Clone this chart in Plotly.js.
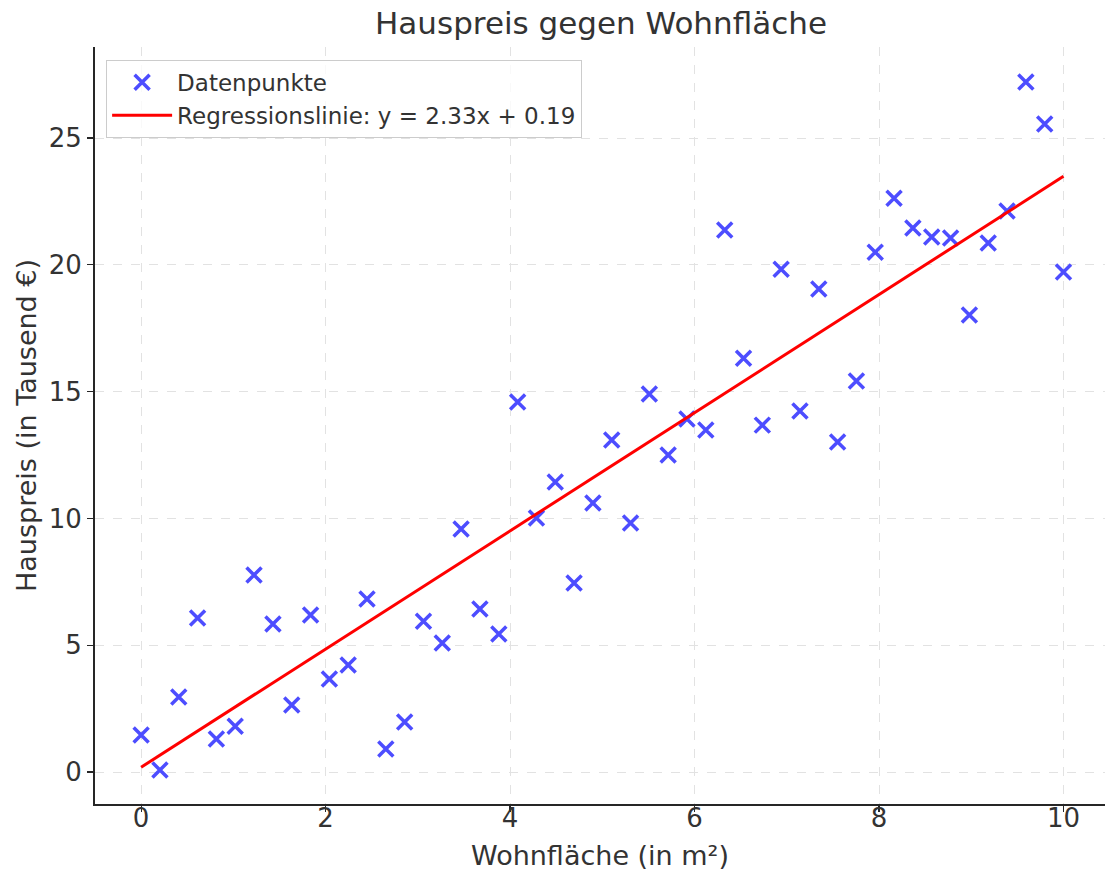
<!DOCTYPE html>
<html>
<head>
<meta charset="utf-8">
<script src="https://cdn.plot.ly/plotly-3.0.1.min.js"></script>
<style>html,body{margin:0;padding:0;background:#fff;}#chart{width:1105px;height:876px;}</style>
</head>
<body>
<div id="chart"></div>
<script>
// Wohnfläche (x) values
const wohnflaeche = [
  0.000, 0.204, 0.408, 0.612, 0.816, 1.020, 1.224, 1.429, 1.633, 1.837,
  2.041, 2.245, 2.449, 2.653, 2.857, 3.061, 3.265, 3.469, 3.673, 3.878,
  4.082, 4.286, 4.490, 4.694, 4.898, 5.102, 5.306, 5.510, 5.714, 5.918,
  6.122, 6.327, 6.531, 6.735, 6.939, 7.143, 7.347, 7.551, 7.755, 7.959,
  8.163, 8.367, 8.571, 8.776, 8.980, 9.184, 9.388, 9.592, 9.796, 10.000
];
// Hauspreis (y) values
const hauspreis = [
  1.46, 0.08, 2.96, 6.07, 1.30, 1.81, 7.77, 5.84, 2.64, 6.19,
  3.67, 4.22, 6.82, 0.91, 1.97, 5.95, 5.09, 9.58, 6.43, 5.44,
  14.59, 10.02, 11.44, 7.45, 10.61, 13.09, 9.82, 14.91, 12.50, 13.92,
  13.49, 21.37, 16.32, 13.68, 19.83, 14.24, 19.05, 13.01, 15.42, 20.50,
  22.63, 21.45, 21.10, 21.06, 18.02, 20.86, 22.12, 27.21, 25.55, 19.72
];
// Regression line endpoints
const regX = [0, 10];
const regY = [0.19, 23.49];
const regLabel = "Regressionslinie: y = 2.33x + 0.19";

const font = "DejaVu Sans, sans-serif";
const textColor = "#333333";

const traces = [
  {
    x: wohnflaeche, y: hauspreis, type: "scatter", mode: "markers",
    name: "Datenpunkte",
    marker: {symbol: "x-thin", size: 15, color: "#4d4dff", line: {color: "#4d4dff", width: 3.5}}
  },
  {
    x: regX, y: regY, type: "scatter", mode: "lines",
    name: regLabel,
    line: {color: "#ff0000", width: 3}
  }
];

const axisCommon = {
  showline: true, linecolor: "#262626", linewidth: 2,
  ticks: "outside", ticklen: 6, tickwidth: 1.2, tickcolor: "#262626",
  showgrid: true, gridcolor: "#e2e2e2", griddash: "dash", gridwidth: 1,
  zeroline: false, mirror: false,
  tickfont: {family: font, size: 26, color: textColor}
};

const layout = {
  width: 1105, height: 876,
  paper_bgcolor: "#ffffff", plot_bgcolor: "#ffffff",
  margin: {l: 95, r: 0, t: 47, b: 72},
  title: {text: "Hauspreis gegen Wohnfläche", x: 601/1105, xref: "container", xanchor: "center",
          y: 1 - 23/876, yref: "container", yanchor: "middle",
          font: {family: font, size: 31, color: textColor}},
  xaxis: Object.assign({}, axisCommon, {
    range: [-0.5, 10.45], tickvals: [0, 2, 4, 6, 8, 10],
    ticklabelstandoff: -16,
    title: {text: "Wohnfläche (in m²)", standoff: 14, font: {family: font, size: 27, color: textColor}}
  }),
  yaxis: Object.assign({}, axisCommon, {
    range: [-1.26, 28.59], tickvals: [0, 5, 10, 15, 20, 25],
    title: {text: "Hauspreis (in Tausend €)", standoff: 4, font: {family: font, size: 27, color: textColor}}
  }),
  showlegend: true,
  legend: {x: 0.011, y: 0.983, xanchor: "left", yanchor: "top",
           bgcolor: "rgba(255,255,255,0.8)", bordercolor: "#cccccc", borderwidth: 1,
           itemwidth: 60,
           font: {family: font, size: 23, color: textColor}, tracegroupgap: 4}
};

Plotly.newPlot("chart", traces, layout, {displayModeBar: false, staticPlot: true});
</script>
</body>
</html>
